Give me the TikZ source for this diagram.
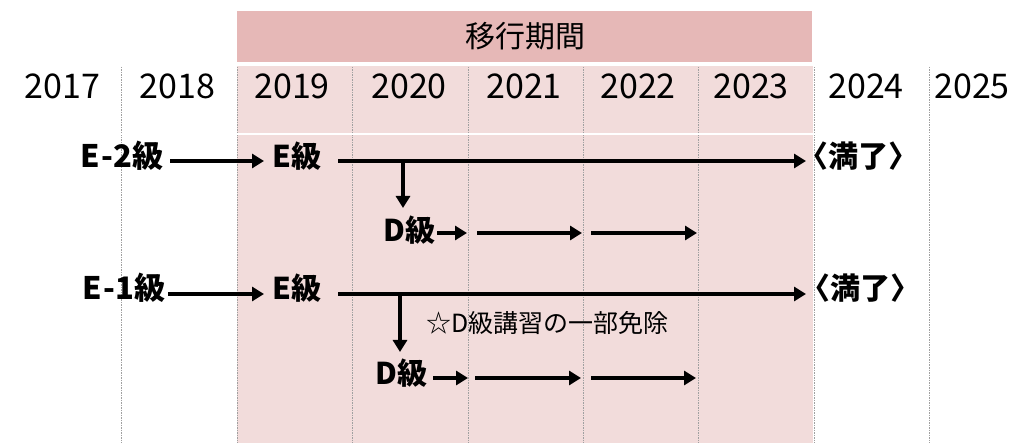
\documentclass[tikz,border=0pt]{standalone}
\usepackage{fontspec}
\setmainfont{Noto Sans CJK JP}
\usetikzlibrary{arrows.meta}
\definecolor{bandpink}{HTML}{E6B8B7}
\definecolor{lightpink}{HTML}{F2DCDB}
\definecolor{gridgray}{HTML}{A0A0A0}
\begin{document}
\begin{tikzpicture}[x=1pt,y=-1pt,
  year/.style={font=\fontsize{34}{36}\selectfont, inner sep=0pt, anchor=base},
  head/.style={font=\fontsize{30}{34}\selectfont, inner sep=0pt},
  lbl/.style={font=\fontsize{30}{32}\selectfont\bfseries, inner sep=0pt},
  wide/.style={font=\fontsize{31}{32}\selectfont\bfseries, inner sep=0pt},
  note/.style={font=\fontsize{25}{28}\selectfont, inner sep=0pt, anchor=base west},
  arr/.style={line width=3.5pt, -{Triangle[length=12pt,width=14pt]}},
  gridline/.style={gridgray, line width=0.8pt, dash pattern=on 1.5pt off 1pt}]
\useasboundingbox (0,0) rectangle (1031,443);
\fill[white] (0,0) rectangle (1031,443);
% backgrounds
\fill[bandpink] (237,11) rectangle (812,62);
\fill[lightpink] (237,66) rectangle (813,443);
\foreach \x in {121,237,352,468,583,698,814,929}
  \draw[gridline] (\x,67) -- (\x,443);
\draw[white, line width=2pt] (110,134) -- (940,134);
% header
\node[head] (period) at (525,36) {移行期間};
% years
\node[year] (y17) at (62.5,99) {2017};
\node[year] (y18) at (177.5,99) {2018};
\node[year] (y19) at (292,99) {2019};
\node[year] (y20) at (409,99) {2020};
\node[year] (y21) at (524,99) {2021};
\node[year] (y22) at (638,99) {2022};
\node[year] (y23) at (751,99) {2023};
\node[year] (y24) at (866,99) {2024};
\node[year] (y25) at (972,99) {2025};
% row 1
\node[wide, anchor=base east] (e2) at (164,168) {E\kern1pt-\kern1pt2級};
\node[lbl, anchor=base west] (eA) at (272,168) {E級};
\node[lbl, anchor=base] (mA) at (858,168) {〈満了〉};
\node[lbl, anchor=base west] (dA) at (383,242) {D級};
% row 2
\node[wide, anchor=base east] (e1) at (166,300) {E\kern1pt-\kern1pt1級};
\node[lbl, anchor=base west] (eB) at (272,300) {E級};
\node[lbl, anchor=base] (mB) at (860,300) {〈満了〉};
\node[note] (nt) at (426,333) {☆D級講習の一部免除};
\node[lbl, anchor=base west] (dB) at (375,385) {D級};
% connector end points
\coordinate (p1) at (170,161); \coordinate (p2) at (264,161);
\coordinate (p3) at (338,161); \coordinate (p4) at (806,161);
\coordinate (p5) at (403,161); \coordinate (p6) at (403,208);
\coordinate (p7) at (437,233); \coordinate (p8) at (467,233);
\coordinate (p9) at (477,233); \coordinate (p10) at (582,233);
\coordinate (p11) at (591,233); \coordinate (p12) at (697,233);
\coordinate (q1) at (168,294); \coordinate (q2) at (264,294);
\coordinate (q3) at (338,294); \coordinate (q4) at (806,294);
\coordinate (q5) at (400,294); \coordinate (q6) at (400,352);
\coordinate (q7) at (433,378); \coordinate (q8) at (468,378);
\coordinate (q9) at (475,378); \coordinate (q10) at (581,378);
\coordinate (q11) at (591,378); \coordinate (q12) at (696,378);
% arrows row 1
\draw[arr] (p1) -- (p2);
\draw[arr] (p3) -- (p4);
\draw[arr] (p5) -- (p6);
\draw[arr] (p7) -- (p8);
\draw[arr] (p9) -- (p10);
\draw[arr] (p11) -- (p12);
% arrows row 2
\draw[arr] (q1) -- (q2);
\draw[arr] (q3) -- (q4);
\draw[arr] (q5) -- (q6);
\draw[arr] (q7) -- (q8);
\draw[arr] (q9) -- (q10);
\draw[arr] (q11) -- (q12);
\end{tikzpicture}
\end{document}
